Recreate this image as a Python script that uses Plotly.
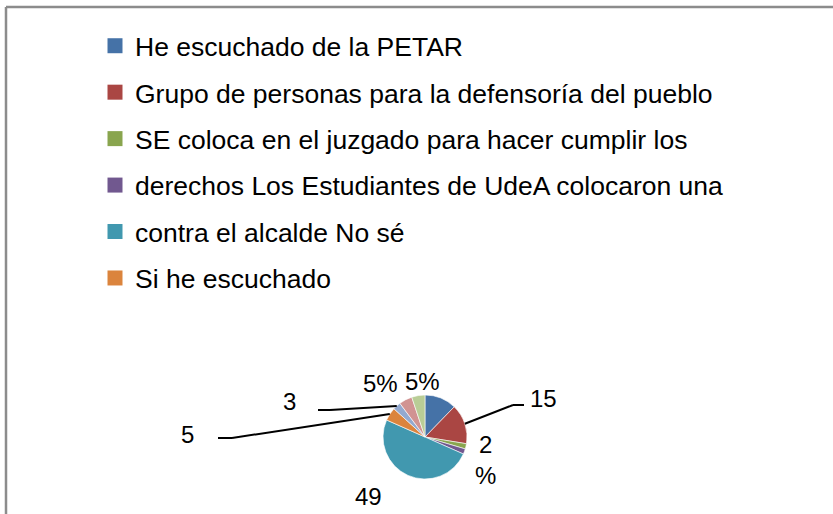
import plotly.graph_objects as go
import math

# slices, clockwise from 12 o'clock
slice_names = ["He escuchado de la PETAR", "Grupo de personas", "SE coloca en el juzgado",
               "Los Estudiantes de UdeA", "No sé", "Si he escuchado", "Otro 1", "Otro 2", "Otro 3"]
slice_values = [12, 15, 2, 2, 49, 5, 3, 5, 5]
slice_text = ["", "15", "2<br>%", "", "49", "5", "3", "5%", "5%"]
slice_colors = ["#4572A7", "#AA4643", "#89A54E", "#71588F", "#4198AF",
                "#DB843D", "#93A9CF", "#D19392", "#B9CD96"]

# legend lines, as they appear in the picture
legend_lines = ["He escuchado de la PETAR",
                "Grupo de personas para la defensoría del pueblo",
                "SE coloca en el juzgado para hacer cumplir los",
                "derechos Los Estudiantes de UdeA colocaron una",
                "contra el alcalde No sé",
                "Si he escuchado"]

W, H = 833, 514
FONT = "Arial, Liberation Sans, sans-serif"
cx, cy, r = 425, 437, 42   # pie centre/radius in pixels


def px(x, y):
    return x / W, 1 - y / H


fig = go.Figure()
fig.add_trace(go.Pie(
    labels=slice_names, values=slice_values, sort=False, direction="clockwise",
    rotation=0, marker=dict(colors=slice_colors, line=dict(color="white", width=0.6)),
    textinfo="none", hoverinfo="none", showlegend=False,
    domain=dict(x=[(cx - r) / W, (cx + r) / W], y=[1 - (cy + r) / H, 1 - (cy - r) / H]),
))

for name, col in zip(legend_lines, slice_colors):
    fig.add_trace(go.Scatter(x=[None], y=[None], mode="markers", name=name, legendgroup=name,
                             marker=dict(symbol="square", size=15, color=col)))

# label placement (pixels) and optional leader-line elbows
label_pos = {1: (543, 398), 2: (485, 460), 4: (368, 496), 5: (187, 434),
             6: (289, 401), 7: (380, 383), 8: (423, 381)}
leaders = {1: [(513, 405), (524, 405)], 5: [(232, 438), (218, 438)],
           6: [(330, 410), (318, 410)]}

total = sum(slice_values)
cum = 0
shapes = []
annotations = []
for i, v in enumerate(slice_values):
    mid = (cum + v / 2) / total * 2 * math.pi
    cum += v
    if i in leaders:
        pts = [(cx + r * math.sin(mid), cy - r * math.cos(mid))] + leaders[i]
        for (x0, y0), (x1, y1) in zip(pts[:-1], pts[1:]):
            a, b = px(x0, y0)
            c, d = px(x1, y1)
            shapes.append(dict(type="line", xref="paper", yref="paper", x0=a, y0=b, x1=c, y1=d,
                               line=dict(color="black", width=2)))
    if slice_text[i] and i in label_pos:
        lx, ly = px(*label_pos[i])
        annotations.append(dict(x=lx, y=ly, xref="paper", yref="paper", text=slice_text[i],
                                showarrow=False, font=dict(size=24, color="black", family=FONT),
                                xanchor="center", yanchor="middle"))

# chart-area border (top and left edges visible)
for x0, y0, x1, y1 in [(6, 7, W, 7), (6, 7, 6, H)]:
    a, b = px(x0, y0)
    c, d = px(x1, y1)
    shapes.append(dict(type="line", xref="paper", yref="paper", x0=a, y0=b, x1=c, y1=d,
                       line=dict(color="#8c8c8c", width=2.5)))

fig.update_layout(
    width=W, height=H, margin=dict(l=0, r=0, t=0, b=0),
    paper_bgcolor="white", plot_bgcolor="white",
    xaxis=dict(visible=False), yaxis=dict(visible=False),
    showlegend=True,
    legend=dict(x=95 / W, y=1 - 22 / H, xanchor="left", yanchor="top",
                font=dict(size=26.5, color="black", family=FONT),
                tracegroupgap=9, itemsizing="trace", bgcolor="rgba(0,0,0,0)"),
    shapes=shapes, annotations=annotations,
)

# drop the page's default 8px body margin so the figure sits at the window corner
fig.write_html("out.html", config={"displayModeBar": False},
               post_script="document.body.style.margin='0';")
